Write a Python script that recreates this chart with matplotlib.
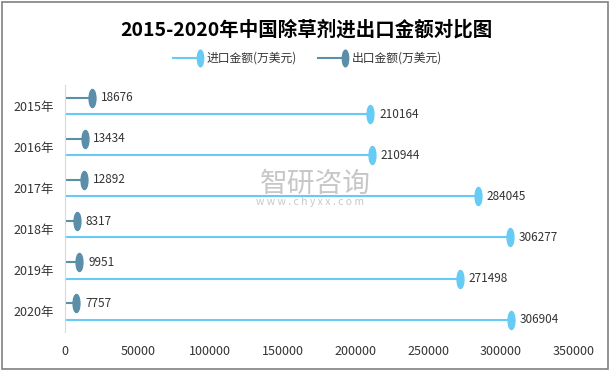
import numpy as np
import matplotlib
matplotlib.use("Agg")
import matplotlib.pyplot as plt
from matplotlib.path import Path
from matplotlib.patches import Rectangle
from matplotlib.lines import Line2D

plt.rcParams['font.family'] = ['Noto Sans CJK SC', 'DejaVu Sans']

years = ["2015年", "2016年", "2017年", "2018年", "2019年", "2020年"]
imports = [210164, 210944, 284045, 306277, 271498, 306904]
exports = [18676, 13434, 12892, 8317, 9951, 7757]
legend_names = ["进口金额(万美元)", "出口金额(万美元)"]

IMP_C = "#66ccf5"
EXP_C = "#5b8ea8"

# tall oval marker
oval = Path.unit_circle().transformed(matplotlib.transforms.Affine2D().scale(0.38, 1.0))

W, H = 613, 371
fig = plt.figure(figsize=(W / 100, H / 100), dpi=100)
ax = fig.add_axes([0.106, 0.105, 0.830, 0.665])

y = np.arange(len(years))
off = 0.2
for i in range(len(years)):
    ye, yi = y[i] - off, y[i] + off
    ax.plot([0, exports[i]], [ye, ye], color=EXP_C, lw=1.5, zorder=2)
    ax.plot([exports[i]], [ye], marker=oval, ms=13, color=EXP_C, mec=EXP_C, zorder=3)
    ax.text(exports[i] + 6000, ye, str(exports[i]), va="center", ha="left", fontsize=8.5, color="#333333")
    ax.plot([0, imports[i]], [yi, yi], color=IMP_C, lw=1.5, zorder=2)
    ax.plot([imports[i]], [yi], marker=oval, ms=13, color=IMP_C, mec=IMP_C, zorder=3)
    ax.text(imports[i] + 6000, yi, str(imports[i]), va="center", ha="left", fontsize=8.5, color="#333333")

ax.set_xlim(0, 350000)
ax.set_ylim(len(years) - 0.5, -0.5)
ax.set_xticks(np.arange(0, 350001, 50000))
ax.set_yticks(y)
ax.set_yticklabels(years)
ax.tick_params(length=0, labelsize=9, colors="#333333")
ax.tick_params(axis="x", pad=9)
ax.tick_params(axis="y", pad=8)
for s in ["top", "right", "bottom"]:
    ax.spines[s].set_visible(False)
ax.spines["left"].set_color("#d9d9d9")

# watermark
fig.text(0.515, 0.505, "智研咨询", ha="center", va="center", fontsize=20, color="#b0b0b0", alpha=0.7)
fig.text(0.505, 0.455, "w w w . c h y x x . c o m", ha="center", va="center", fontsize=7.5, color="#b0b0b0", alpha=0.7)

fig.suptitle("2015-2020年中国除草剂进出口金额对比图", y=0.948, fontsize=14, fontweight="bold")

# legend drawn by hand: line with oval at its right end
ly = 1 - 58 / H
for (x0, x1), col, name in zip([(173, 200), (318, 345)], [IMP_C, EXP_C], legend_names):
    fig.add_artist(Line2D([x0 / W, x1 / W], [ly, ly], color=col, lw=1.5, transform=fig.transFigure))
    fig.add_artist(Line2D([x1 / W], [ly], marker=oval, ms=12, color=col, mec=col, transform=fig.transFigure))
    fig.text((x1 + 7) / W, ly, name, ha="left", va="center", fontsize=8.5, color="#333333")

fig.patches.append(Rectangle((0.004, 0.006), 0.988, 0.988, transform=fig.transFigure,
                             fill=False, ec="#808080", lw=1.2))

fig.savefig("out.png", dpi=100)
